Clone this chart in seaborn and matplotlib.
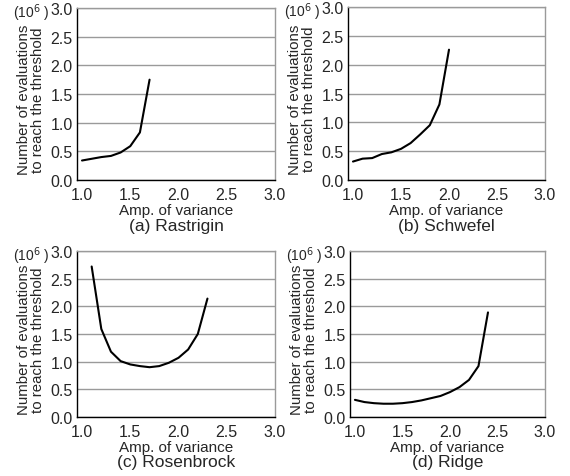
import numpy as np
import pandas as pd
import matplotlib
matplotlib.use("Agg")
import matplotlib.pyplot as plt
import seaborn as sns
from matplotlib.ticker import MultipleLocator

# ---- data (values in units of 10^6) ----
rastrigin_x = [1.0, 1.1, 1.2, 1.3, 1.4, 1.5, 1.6, 1.7]
rastrigin_y = [0.34, 0.37, 0.40, 0.42, 0.48, 0.59, 0.83, 1.75]

schwefel_x = [1.0, 1.1, 1.2, 1.3, 1.4, 1.5, 1.6, 1.7, 1.8, 1.9, 2.0]
schwefel_y = [0.32, 0.37, 0.38, 0.45, 0.48, 0.54, 0.64, 0.79, 0.95, 1.31, 2.26]

rosenbrock_x = [1.1, 1.2, 1.3, 1.4, 1.5, 1.6, 1.7, 1.8, 1.9, 2.0, 2.1, 2.2, 2.3]
rosenbrock_y = [2.72, 1.59, 1.18, 1.01, 0.95, 0.92, 0.90, 0.92, 0.98, 1.07, 1.22, 1.50, 2.14]

ridge_x = [1.0, 1.1, 1.2, 1.3, 1.4, 1.5, 1.6, 1.7, 1.8, 1.9, 2.0, 2.1, 2.2, 2.3, 2.4]
ridge_y = [0.31, 0.27, 0.25, 0.24, 0.24, 0.25, 0.27, 0.30, 0.34, 0.38, 0.45, 0.54, 0.67, 0.92, 1.89]

captions = ["(a) Rastrigin", "(b) Schwefel", "(c) Rosenbrock", "(d) Ridge"]

sns.set_style("white")
plt.rcParams["font.family"] = ["Liberation Sans", "DejaVu Sans"]

W, H = 570, 477
PX = 72 / 100  # points per pixel at dpi 100
fig = plt.figure(figsize=(W / 100, H / 100), dpi=100)

# axes boxes in pixels: left, top, right, bottom
boxes = [
    (77, 9, 275, 181),
    (348, 8, 545, 181),
    (77, 252, 275, 418),
    (350, 252, 545, 418),
]
series = [
    (rastrigin_x, rastrigin_y),
    (schwefel_x, schwefel_y),
    (rosenbrock_x, rosenbrock_y),
    (ridge_x, ridge_y),
]

for (l, t, r, b), (xs, ys), cap in zip(boxes, series, captions):
    ax = fig.add_axes([l / W, 1 - b / H, (r - l) / W, (b - t) / H])
    df = pd.DataFrame({"amp": xs, "evals": ys})
    sns.lineplot(data=df, x="amp", y="evals", ax=ax, color="black", linewidth=1.5)

    ax.set_xlim(0.948, 3.0)
    ax.set_ylim(0, 3.0)
    ax.xaxis.set_major_locator(MultipleLocator(0.5))
    ax.xaxis.set_minor_locator(MultipleLocator(0.25))
    ax.yaxis.set_major_locator(MultipleLocator(0.5))
    ax.yaxis.grid(True, color="#9a9a9a", linewidth=1.0)
    ax.set_axisbelow(True)

    for side in ["top", "right"]:
        ax.spines[side].set_color("#9a9a9a")
        ax.spines[side].set_linewidth(1.0)
    for side in ["left", "bottom"]:
        ax.spines[side].set_color("black")
        ax.spines[side].set_linewidth(1.0)

    ax.tick_params(axis="both", which="major", direction="in", length=3,
                   width=1.0, labelsize=11.5, color="black", pad=3)
    ax.tick_params(axis="x", which="major", pad=5)
    ax.tick_params(axis="x", which="minor", direction="in", length=2,
                   width=1.0, color="black")
    ax.set_xticklabels([f"{v:.1f}" for v in ax.get_xticks()])
    ax.set_yticklabels([f"{v:.1f}" for v in ax.get_yticks()])

    ax.set_xlabel("Amp. of variance", fontsize=11, labelpad=1)
    ax.set_ylabel("Number of evaluations\nto reach the threshold",
                  fontsize=10.8, linespacing=1.0)
    ax.yaxis.set_label_coords(-32 / (r - l), 0.5 - 5 / (b - t))

    ax.annotate(r"(10$^6$ )", xy=(0, 1), xycoords="axes fraction",
                xytext=(-28 * PX, -4 * PX), textcoords="offset points",
                ha="right", va="center", fontsize=10)
    ax.annotate(cap, xy=(0.5, 0), xycoords="axes fraction",
                xytext=(0, -45 * PX), textcoords="offset points",
                ha="center", va="center", fontsize=12.5)

fig.savefig("out.png", dpi=100)
